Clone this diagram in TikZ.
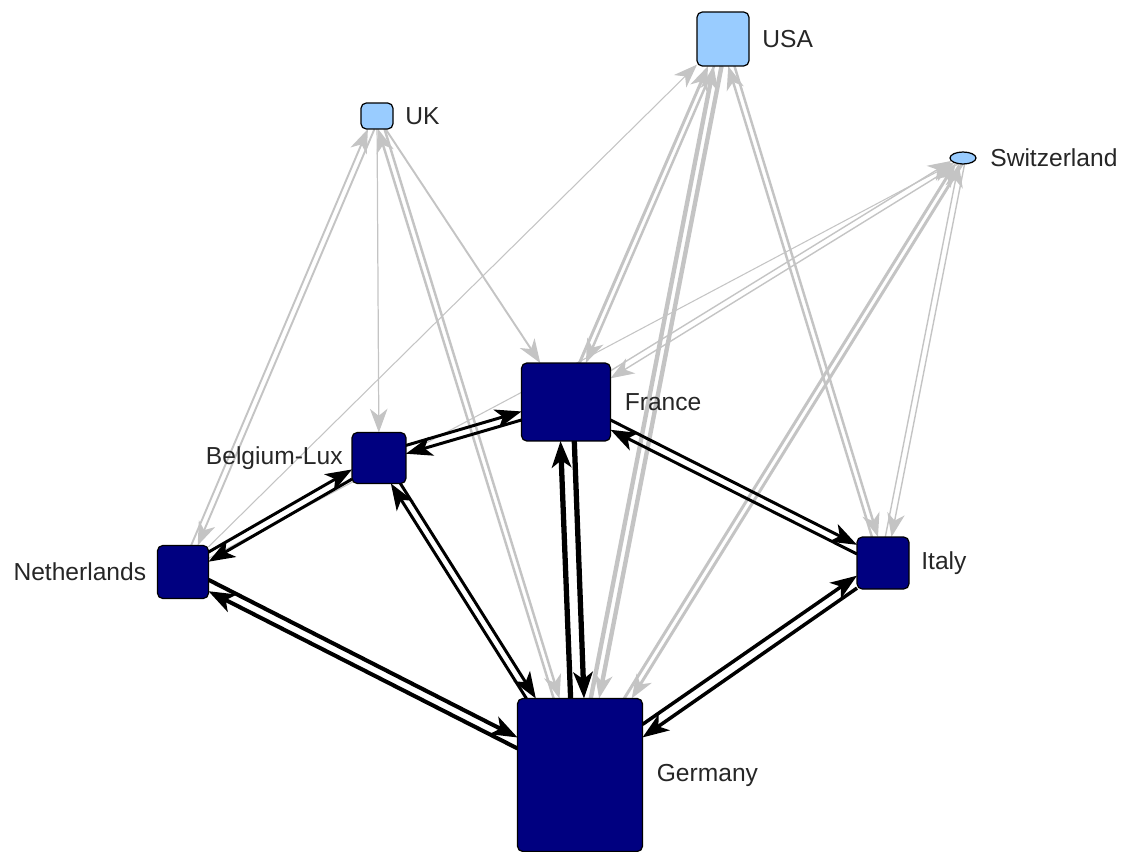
\documentclass[tikz,border=0pt]{standalone}
\usepackage{fontspec}
\setmainfont{Liberation Sans}
\usetikzlibrary{arrows.meta,positioning,shapes.geometric,backgrounds}

\definecolor{navy}{RGB}{0,0,128}
\definecolor{skyblue}{RGB}{153,204,255}
\definecolor{linkgray}{RGB}{196,196,196}

\tikzset{
    core/.style={shape=rectangle,rounded corners=3pt,draw=black,line width=0.7pt,fill=navy,inner sep=0pt,outer sep=0pt},
    outer/.style={core,fill=skyblue},
    lbl/.style={inner sep=0pt,font=\fontsize{14}{16}\selectfont,text=black!85},
    blk/.style={draw=black,line width=#1,-{Stealth[length=15pt,width=11pt,inset=4pt]}},
    blk/.default=1.7pt,
    gry/.style={draw=linkgray,line width=#1,-{Stealth[length=13.5pt,width=10pt,inset=4pt]}},
    gry/.default=1pt
}

\begin{document}
\begin{tikzpicture}[x=0.02cm,y=-0.02cm]
    \useasboundingbox (0,0) rectangle (1123,852);

    % countries
    \node[outer,minimum width=0.64cm,minimum height=0.52cm] (uk) at (377,116) {};
    \node[outer,minimum width=1.04cm,minimum height=1.08cm] (usa) at (723,39) {};
    \node[outer,shape=ellipse,minimum width=0.52cm,minimum height=0.24cm] (ch) at (963,158) {};
    \node[core,minimum width=1.78cm,minimum height=1.56cm] (fr) at (566,402) {};
    \node[core,minimum width=1.08cm,minimum height=1.02cm] (be) at (379,458) {};
    \node[core,minimum width=1.02cm,minimum height=1.06cm] (nl) at (183,572) {};
    \node[core,minimum width=1.04cm,minimum height=1.04cm] (it) at (883,563) {};
    \node[core,minimum width=2.5cm,minimum height=3.06cm] (de) at (580,775) {};

    \node[lbl,right=0.24cm of uk] (uk-t) {UK};
    \node[lbl,right=0.26cm of usa] (usa-t) {USA};
    \node[lbl,right=0.28cm of ch] (ch-t) {Switzerland};
    \node[lbl,right=0.28cm of fr] (fr-t) {France};
    \node[lbl,left=0.18cm of be] (be-t) {Belgium-Lux};
    \node[lbl,left=0.22cm of nl] (nl-t) {Netherlands};
    \node[lbl,right=0.24cm of it] (it-t) {Italy};
    \node[lbl,right=0.28cm of de] (de-t) {Germany};

    \begin{scope}[on background layer]
    % flows with UK, USA and Switzerland
    \draw[gry=1.1pt] (uk.259) -- (nl.61);
    \draw[gry=1.1pt] (nl.73) -- (uk.235);
    \draw[gry=0.7pt] (uk) -- (be);
    \draw[gry=1.1pt] (uk) -- (fr);
    \draw[gry=1.4pt] (uk.-60) -- (de.105);
    \draw[gry=1.4pt] (de.109) -- (uk.-85);
    \draw[gry=0.6pt] (nl) -- (usa);
    \draw[gry=0.6pt] (nl) -- (ch);
    \draw[gry=1.4pt] (usa.252) -- (fr.63);
    \draw[gry=1.7pt] (fr.71) -- (usa.241);
    \draw[gry=2.5pt] (usa.267) -- (de.76);
    \draw[gry=2.5pt] (de.82) -- (usa.251);
    \draw[gry=1.4pt] (usa.-67) -- (it.101);
    \draw[gry=1.4pt] (it.113) -- (usa.-79);
    \draw[gry=0.8pt] (ch.230) -- (fr.28);
    \draw[gry=0.8pt] (fr.35) -- (ch.194);
    \draw[gry=1.7pt] (ch.262) -- (de.56);
    \draw[gry=1.7pt] (de.60) -- (ch.214);
    \draw[gry=0.8pt] (ch.285) -- (it.72);
    \draw[gry=0.8pt] (it.85) -- (ch.233);

    % flows between the core countries
    \draw[blk] (nl.38) -- (be.203);
    \draw[blk] (be.218) -- (nl.22);
    \draw[blk] (be.25) -- (fr.192);
    \draw[blk] (fr.202) -- (be.9);
    \draw[blk=2.3pt] (nl.-17) -- (de.149);
    \draw[blk=2.3pt] (de.157) -- (nl.-37);
    \draw[blk] (be.-50) -- (de.120);
    \draw[blk] (de.125) -- (be.-65);
    \draw[blk=3pt] (fr.-78) -- (de.87);
    \draw[blk=3pt] (de.97) -- (fr.-98);
    \draw[blk] (fr.-22) -- (it.145);
    \draw[blk] (it.161) -- (fr.-32);
    \draw[blk=2pt] (it.224) -- (de.31);
    \draw[blk=2pt] (de.39) -- (it.206);
    \end{scope}
\end{tikzpicture}
\end{document}
